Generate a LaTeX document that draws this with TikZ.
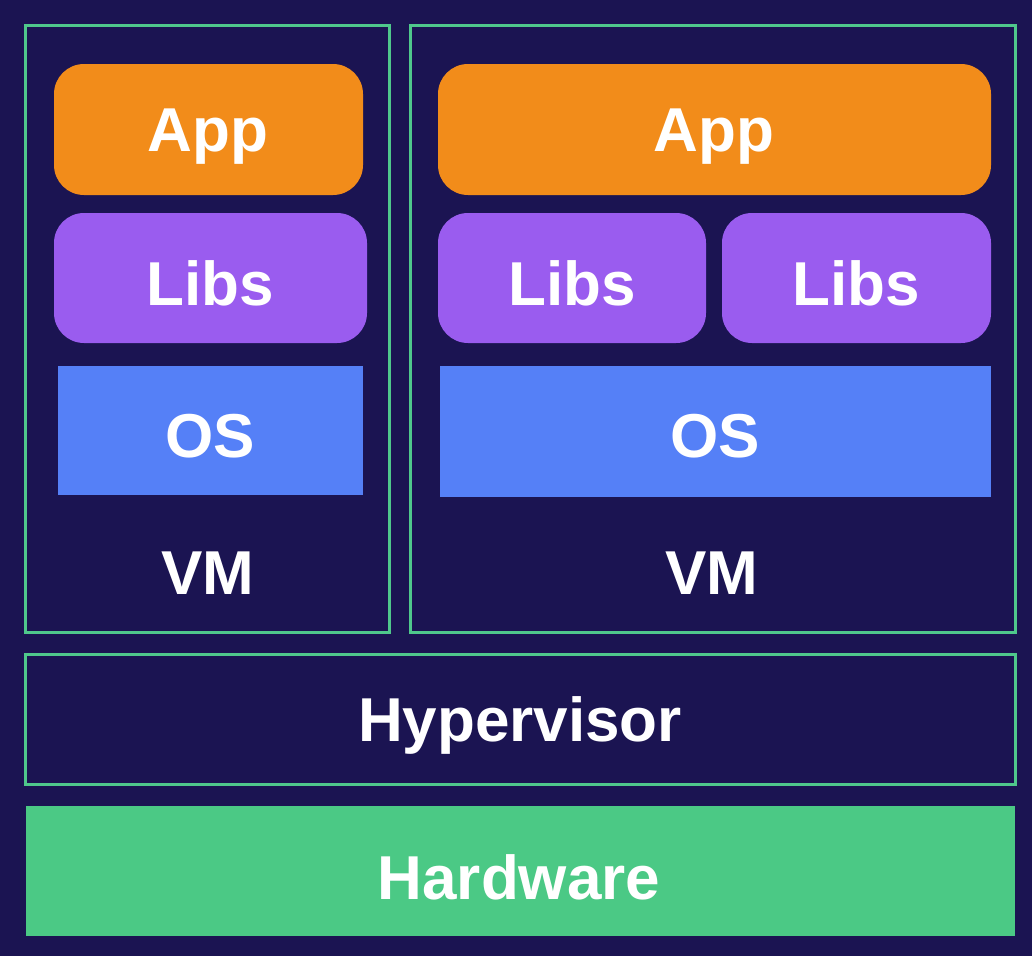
\documentclass[tikz,border=0pt]{standalone}
\usepackage{fontspec}
\setmainfont{Liberation Sans}
\definecolor{bgc}{HTML}{1B1452}
\definecolor{edgec}{HTML}{4FC88C}
\definecolor{hwc}{HTML}{4BC985}
\definecolor{appc}{HTML}{F28C1A}
\definecolor{libc}{HTML}{9A5CEF}
\definecolor{osc}{HTML}{5580F7}
\begin{document}
\begin{tikzpicture}[x=1pt,y=-1pt,
  lbl/.style={text=white,font=\fontsize{62}{64}\selectfont\bfseries},
  frame/.style={draw=edgec,line width=3pt},
  appbox/.style={fill=appc,rounded corners=30pt},
  libbox/.style={fill=libc,rounded corners=30pt},
  osbox/.style={fill=osc}]
\fill[bgc] (0,0) rectangle (1032,956);
\useasboundingbox (0,0) rectangle (1032,956);
% VM frames
\draw[frame] (25,25) rectangle (389,632);
\draw[frame] (410,25) rectangle (1015,632);
% hypervisor
\draw[frame] (25,654) rectangle (1015,784);
\node[lbl] (hyp) at (520,725) {Hypervisor};
% hardware
\fill[hwc] (26,806) rectangle (1015,936);
\node[lbl] (hw) at (519,877) {Hardware};
% VM1
\fill[appbox] (54,64) rectangle (363,195);
\node[lbl] (app1) at (208,137) {App};
\fill[libbox] (54,213) rectangle (367,343);
\node[lbl] (libs1) at (210,283) {Libs};
\fill[osbox] (58,366) rectangle (363,495);
\node[lbl] (os1) at (210,436) {OS};
\node[lbl] (vm1) at (208,573) {VM};
% VM2
\fill[appbox] (438,64) rectangle (991,195);
\node[lbl] (app2) at (714,137) {App};
\fill[libbox] (438,213) rectangle (706,343);
\node[lbl] (libs2a) at (572,283) {Libs};
\fill[libbox] (722,213) rectangle (991,343);
\node[lbl] (libs2b) at (856,283) {Libs};
\fill[osbox] (440,366) rectangle (991,497);
\node[lbl] (os2) at (715,436) {OS};
\node[lbl] (vm2) at (712,573) {VM};
\end{tikzpicture}
\end{document}
